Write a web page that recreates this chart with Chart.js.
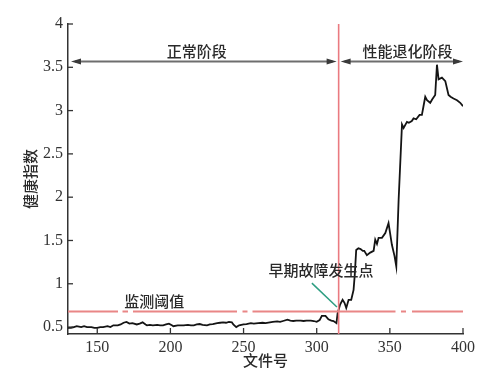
<!DOCTYPE html>
<html>
<head>
<meta charset="utf-8">
<script src="https://cdn.jsdelivr.net/npm/chart.js@4.4.1/dist/chart.umd.min.js"></script>
<style>
  html, body { margin: 0; padding: 0; background: #fff; }
  #wrap { width: 487px; height: 392px; }
</style>
</head>
<body>
<div id="wrap"><canvas id="chart" width="487" height="392"></canvas></div>
<script>
// Health index per file number
const fileNo = [
  130, 132, 134, 136, 139, 141, 143, 146, 148, 150,
  152, 154, 157, 159, 161, 164, 166, 168, 170, 172,
  174, 177, 179, 181, 183, 184, 186, 188, 191, 193,
  195, 197, 199, 201, 202, 205, 207, 209, 212, 214,
  216, 218, 220, 222, 225, 227, 229, 232, 234, 236,
  238, 240, 242, 243, 245, 247, 250, 252, 255, 257,
  260, 263, 265, 268, 270, 273, 275, 277, 280, 282,
  284, 286, 289, 291, 293, 296, 298, 300, 302, 303.5,
  306, 308, 310, 311.5, 313.5, 314.3, 316, 317.7, 319, 320.2,
  321.8, 323.6, 325.2, 326, 327, 328.5, 330, 331.5, 332.5, 334.3,
  336.6, 338.9, 340, 341.2, 342.3, 344.6, 346.9, 349.1, 351.4, 353.2,
  354.4, 356, 358.3, 359.4, 361.7, 363, 365, 366.2, 368, 370.3,
  371.9, 373, 374.2, 375.4, 377.6, 379, 381, 382.2, 383.3, 385.6,
  387.9, 390.1, 391.5, 393.5, 395.9, 398.1, 400
];
const healthIdx = [
  0.49, 0.49, 0.50, 0.51, 0.50, 0.51, 0.50, 0.50, 0.49, 0.49,
  0.50, 0.50, 0.51, 0.50, 0.52, 0.52, 0.53, 0.55, 0.56, 0.54,
  0.545, 0.53, 0.54, 0.555, 0.53, 0.52, 0.525, 0.52, 0.525, 0.52,
  0.52, 0.53, 0.54, 0.52, 0.51, 0.52, 0.52, 0.52, 0.525, 0.52,
  0.52, 0.53, 0.535, 0.525, 0.52, 0.53, 0.535, 0.545, 0.55, 0.555,
  0.55, 0.56, 0.555, 0.53, 0.50, 0.52, 0.53, 0.535, 0.545, 0.54,
  0.545, 0.55, 0.545, 0.555, 0.56, 0.565, 0.56, 0.57, 0.585, 0.575,
  0.57, 0.575, 0.575, 0.57, 0.575, 0.575, 0.57, 0.56, 0.58, 0.63,
  0.63, 0.59, 0.575, 0.57, 0.545, 0.66, 0.76, 0.815, 0.78, 0.72,
  0.815, 0.815, 0.93, 1.10, 1.39, 1.41, 1.40, 1.38, 1.38, 1.33,
  1.36, 1.38, 1.51, 1.46, 1.53, 1.53, 1.585, 1.70, 1.45, 1.32,
  1.20, 1.97, 2.84, 2.80, 2.87, 2.86, 2.88, 2.91, 2.90, 2.95,
  2.95, 3.05, 3.16, 3.12, 3.09, 3.13, 3.18, 3.53, 3.36, 3.38,
  3.34, 3.18, 3.16, 3.14, 3.12, 3.09, 3.05
];

const xTicks = [150, 200, 250, 300, 350, 400];
const yTicks = [0.5, 1, 1.5, 2, 2.5, 3, 3.5, 4];
const yTickLabels = ['0.5', '1', '1.5', '2', '2.5', '3', '3.5', '4'];
const xRange = [130, 400];
const yRange = [0.42, 4];

const threshold = 0.68;      // 监测阈值
const faultFile = 315;       // 早期故障发生点
const stageArrowY = 3.566;   // level of the stage arrows

const serif = 'Liberation Serif';
const cjk = '"Noto Sans CJK SC", "Noto Sans CJK JP", sans-serif';

// inward ticks, stage arrows and labels
const decorPlugin = {
  id: 'decor',
  afterDatasetsDraw(chart) {
    const ctx = chart.ctx;
    const xs = chart.scales.x, ys = chart.scales.y;
    const area = chart.chartArea;

    ctx.save();
    ctx.strokeStyle = '#333';
    ctx.lineWidth = 1.3;
    xTicks.forEach(v => {
      const px = xs.getPixelForValue(v);
      ctx.beginPath();
      ctx.moveTo(px, area.bottom);
      ctx.lineTo(px, area.bottom - 6);
      ctx.stroke();
    });
    yTicks.forEach(v => {
      const py = ys.getPixelForValue(v);
      ctx.beginPath();
      ctx.moveTo(area.left, py);
      ctx.lineTo(area.left + 5, py);
      ctx.stroke();
    });

    // stage arrows
    const ay = ys.getPixelForValue(stageArrowY);
    const xl = xs.getPixelForValue(xRange[0]) + 3;
    const xm = xs.getPixelForValue(faultFile);
    const xr = xs.getPixelForValue(xRange[1]);
    function arrow(a, b) {
      ctx.strokeStyle = '#6e6e6e';
      ctx.fillStyle = '#3a3a3a';
      ctx.lineWidth = 2;
      ctx.beginPath();
      ctx.moveTo(a + 4, ay);
      ctx.lineTo(b - 4, ay);
      ctx.stroke();
      [[a, 1], [b, -1]].forEach(([tip, dir]) => {
        ctx.beginPath();
        ctx.moveTo(tip, ay);
        ctx.lineTo(tip + dir * 10, ay - 3);
        ctx.lineTo(tip + dir * 10, ay + 3);
        ctx.closePath();
        ctx.fill();
      });
    }
    arrow(xl, xm - 2);
    arrow(xm + 2, xr);

    // green pointer to the fault point
    ctx.strokeStyle = '#2e9e82';
    ctx.lineWidth = 1.5;
    ctx.beginPath();
    ctx.moveTo(xs.getPixelForValue(296.7), ys.getPixelForValue(1.008));
    ctx.lineTo(xs.getPixelForValue(313.8), ys.getPixelForValue(0.731));
    ctx.stroke();

    // text labels
    ctx.fillStyle = '#2a2a2a';
    ctx.font = '500 15px ' + cjk;
    ctx.textAlign = 'center';
    ctx.textBaseline = 'middle';
    ctx.fillText('正常阶段', xs.getPixelForValue(218), ay - 10);
    ctx.fillText('性能退化阶段', xs.getPixelForValue(362), ay - 10);
    ctx.fillText('早期故障发生点', xs.getPixelForValue(303), ys.getPixelForValue(1.16));
    ctx.fillText('监测阈值', xs.getPixelForValue(189), ys.getPixelForValue(0.795));
    ctx.restore();
  }
};

const ctx = document.getElementById('chart').getContext('2d');
const chart = new Chart(ctx, {
  type: 'line',
  data: {
    datasets: [
      {
        label: 'threshold',
        data: [{ x: xRange[0], y: threshold }, { x: xRange[1], y: threshold }],
        borderColor: '#e98686',
        borderWidth: 2,
        borderDash: [50, 4.5, 5.5, 5, 104, 5.5, 5, 5, 143, 5.5, 5, 6, 60],
        pointRadius: 0
      },
      {
        label: 'fault',
        data: [{ x: faultFile, y: yRange[0] }, { x: faultFile, y: yRange[1] }],
        borderColor: '#ea7a80',
        borderWidth: 1.6,
        pointRadius: 0
      },
      {
        label: '健康指数',
        data: fileNo.map((f, i) => ({ x: f, y: healthIdx[i] })),
        borderColor: '#141414',
        borderWidth: 1.8,
        pointRadius: 0,
        tension: 0
      }
    ]
  },
  options: {
    responsive: false,
    animation: false,
    events: [],
    layout: { padding: { left: 0, right: 24, top: 24, bottom: 0 } },
    plugins: {
      legend: { display: false },
      tooltip: { enabled: false }
    },
    scales: {
      x: {
        type: 'linear',
        min: xRange[0],
        max: xRange[1],
        afterBuildTicks: s => { s.ticks = xTicks.map(v => ({ value: v })); },
        afterFit: s => { s.height = 58; },
        grid: { display: false, drawTicks: false },
        border: { display: true, color: '#333', width: 1.5 },
        ticks: {
          padding: 4,
          maxRotation: 0,
          color: '#333',
          font: { family: serif, size: 16 },
          callback: v => String(v)
        },
        title: {
          display: true,
          text: '文件号',
          color: '#2a2a2a',
          font: { family: cjk, size: 15, weight: '500' },
          padding: { top: 0, bottom: 23 }
        }
      },
      y: {
        min: yRange[0],
        max: yRange[1],
        afterBuildTicks: s => { s.ticks = yTicks.map(v => ({ value: v })); },
        afterFit: s => { s.width = 68; },
        grid: { display: false, drawTicks: false },
        border: { display: true, color: '#333', width: 1.5 },
        ticks: {
          padding: 5,
          color: '#333',
          font: { family: serif, size: 16 },
          callback: (v, i) => yTickLabels[i]
        },
        title: {
          display: true,
          text: '健康指数',
          color: '#2a2a2a',
          font: { family: cjk, size: 15, weight: '500' },
          padding: { top: 21, bottom: 0 }
        }
      }
    }
  },
  plugins: [decorPlugin]
});
</script>
</body>
</html>
